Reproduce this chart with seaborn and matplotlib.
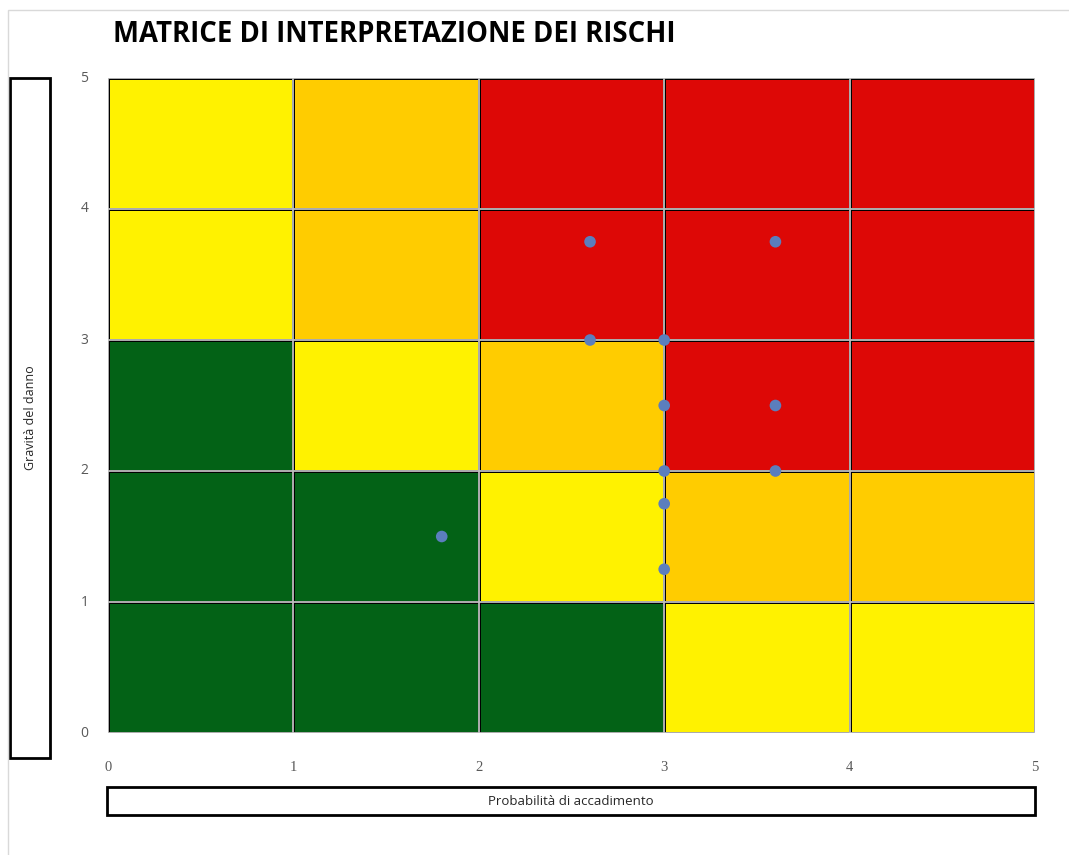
import matplotlib
matplotlib.use("Agg")
import matplotlib.pyplot as plt
import seaborn as sns
import numpy as np
from matplotlib.colors import ListedColormap
from matplotlib.patches import Rectangle

# --- dati ---
titolo = "MATRICE DI INTERPRETAZIONE DEI RISCHI"
etichetta_x = "Probabilità di accadimento"
etichetta_y = "Gravità del danno"
tick_labels = ["0", "1", "2", "3", "4", "5"]

# livelli di rischio per riga (dal basso verso l'alto): 0=verde, 1=giallo, 2=arancio, 3=rosso
livelli = [
    [0, 0, 0, 1, 1],
    [0, 0, 1, 2, 2],
    [0, 1, 2, 3, 3],
    [1, 2, 3, 3, 3],
    [1, 2, 3, 3, 3],
]
colori_livelli = ["#036216", "#FFF200", "#FFCC00", "#DD0806"]

# punti (probabilità, gravità)
prob = [2.6, 3.6, 2.6, 3.0, 3.0, 3.6, 3.0, 3.6, 3.0, 1.8, 3.0]
grav = [3.75, 3.75, 3.0, 3.0, 2.5, 2.5, 2.0, 2.0, 1.75, 1.5, 1.25]

# --- figura ---
sns.set_style("white")
W, H = 1069, 855
fig = plt.figure(figsize=(W / 100, H / 100), dpi=100)
ax = fig.add_axes([108 / W, 1 - 733 / H, (1035 - 108) / W, (733 - 78) / H])

sns.heatmap(np.array(livelli), cmap=ListedColormap(colori_livelli), vmin=-0.5, vmax=3.5,
            cbar=False, linewidths=2.0, linecolor="black", ax=ax)
ax.invert_yaxis()

sns.scatterplot(x=prob, y=grav, ax=ax, color="#5B7EBD", s=70, edgecolor="none", zorder=5)

ax.set_axisbelow(False)
ax.grid(True, color="#BEBEBE", linewidth=1.3)
ax.set_xlim(0, 5)
ax.set_ylim(0, 5)
ax.set_xticks(range(6))
ax.set_yticks(range(6))
ax.set_xticklabels(tick_labels, family="Liberation Serif", fontsize=10.5, color="#595959")
ax.set_yticklabels(tick_labels, family="Open Sans", fontsize=10, color="#595959", rotation=0)
ax.tick_params(axis="x", length=0, pad=20)
ax.tick_params(axis="y", length=0, pad=14)
ax.set_xlabel("")
ax.set_ylabel("")

# titolo
fig.text(113 / W, 1 - 35 / H, titolo, fontsize=19.8, fontweight="bold", family="Open Sans",
         ha="left", va="center", color="black")

# riquadro asse y
fig.patches.append(Rectangle((10 / W, 1 - 758 / H), 40 / W, 680 / H, transform=fig.transFigure,
                             fill=False, edgecolor="black", linewidth=2))
fig.text(30 / W, 1 - 418 / H, etichetta_y, rotation=90, fontsize=9, family="Open Sans",
         ha="center", va="center")

# riquadro asse x
fig.patches.append(Rectangle((107 / W, 1 - 815 / H), 928 / W, 28 / H, transform=fig.transFigure,
                             fill=False, edgecolor="black", linewidth=2))
fig.text(571 / W, 1 - 801 / H, etichetta_x, fontsize=9.5, family="Open Sans",
         ha="center", va="center")

# bordo area grafico
fig.patches.append(Rectangle((8 / W, -0.05), 1.2, 1 - 10 / H + 0.05, transform=fig.transFigure,
                             fill=False, edgecolor="#D9D9D9", linewidth=1))

fig.savefig("out.png", dpi=100)
